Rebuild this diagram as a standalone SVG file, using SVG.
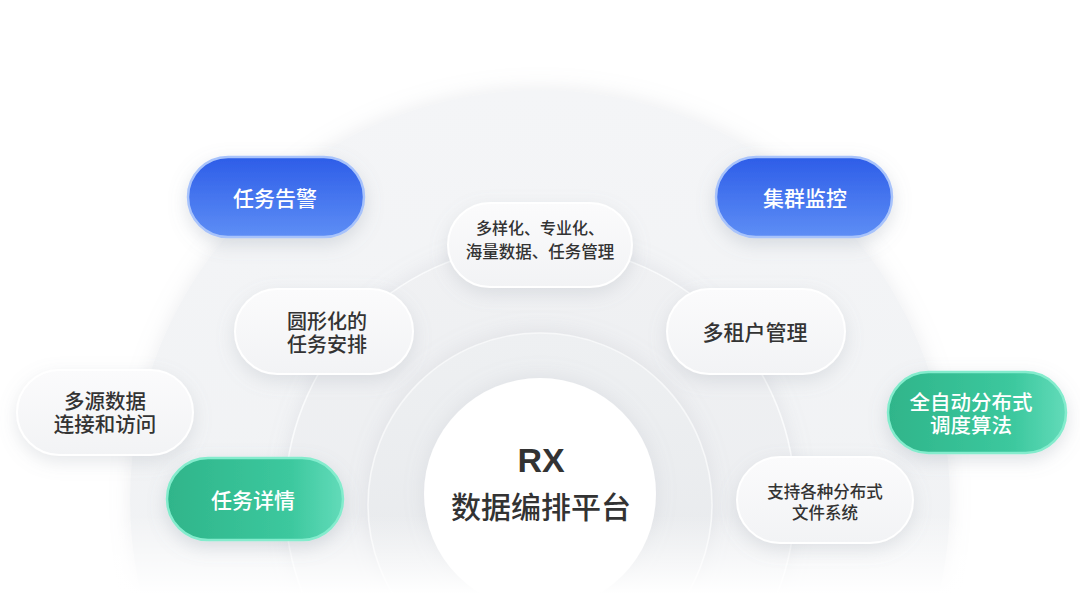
<svg xmlns="http://www.w3.org/2000/svg" width="1080" height="594" viewBox="0 0 1080 594">
<defs>
<linearGradient id="gOuter" x1="0" y1="0" x2="0" y2="1"><stop offset="0" stop-color="#f4f5f7"/><stop offset="1" stop-color="#eef0f2"/></linearGradient>
<linearGradient id="gMid" x1="0" y1="0" x2="0" y2="1"><stop offset="0" stop-color="#f0f1f3"/><stop offset="1" stop-color="#eaecef"/></linearGradient>
<linearGradient id="gRing" x1="0" y1="0" x2="0" y2="1"><stop offset="0" stop-color="#eef0f2"/><stop offset="1" stop-color="#e6e8eb"/></linearGradient>
<linearGradient id="gFade" x1="0" y1="0" x2="0" y2="1"><stop offset="0" stop-color="#ffffff" stop-opacity="0"/><stop offset="1" stop-color="#ffffff" stop-opacity="1"/></linearGradient>
<linearGradient id="gBlue" x1="0" y1="0" x2="0" y2="1"><stop offset="0" stop-color="#2d5de8"/><stop offset="1" stop-color="#5e8ef5"/></linearGradient>
<linearGradient id="gGreen" x1="0" y1="0" x2="1" y2="0"><stop offset="0" stop-color="#2fb58a"/><stop offset="0.7" stop-color="#3cc89e"/><stop offset="1" stop-color="#62dbb9"/></linearGradient>
<linearGradient id="gWhite" x1="0" y1="0" x2="0" y2="1"><stop offset="0" stop-color="#fbfbfc"/><stop offset="1" stop-color="#f2f3f5"/></linearGradient>
<filter id="shSoft" x="-20%" y="-20%" width="140%" height="140%"><feDropShadow dx="0" dy="-2" stdDeviation="10" flood-color="#9aa1ad" flood-opacity="0.18"/></filter>
<filter id="shPill" x="-30%" y="-40%" width="160%" height="190%"><feDropShadow dx="0" dy="6" stdDeviation="9" flood-color="#8c94a3" flood-opacity="0.22"/></filter>
<filter id="shColor" x="-30%" y="-40%" width="160%" height="190%"><feDropShadow dx="0" dy="6" stdDeviation="9" flood-color="#7d8799" flood-opacity="0.25"/></filter>
</defs>
<style>
.t{font-family:"Noto Sans CJK SC","Noto Sans",sans-serif;text-anchor:middle;font-weight:500}
.dark{fill:#333333}
.light{fill:#ffffff}
.pw{fill:url(#gWhite);stroke:#ffffff;stroke-width:2;filter:url(#shPill)}
.pb{fill:url(#gBlue);stroke:#a8c3fb;stroke-width:2.5;filter:url(#shColor)}
.pg{fill:url(#gGreen);stroke:#84eccd;stroke-width:2.5;filter:url(#shColor)}
</style>
<rect width="1080" height="594" fill="#ffffff"/>
<g id="background">
<circle cx="540" cy="500" r="410" fill="url(#gOuter)" filter="url(#shSoft)"/>
<circle cx="540" cy="500" r="255" fill="url(#gMid)" stroke="#fafbfc" stroke-width="1.5" filter="url(#shSoft)"/>
<circle cx="540" cy="505" r="172" fill="url(#gRing)" stroke="#f7f8f9" stroke-width="1.5" filter="url(#shSoft)"/>
<circle cx="540" cy="494" r="116" fill="#ffffff" filter="url(#shSoft)"/>
<rect x="0" y="515" width="1080" height="79" fill="url(#gFade)"/>
</g>
<g id="center">
<text x="541" y="472" font-family="Liberation Sans, Arial, sans-serif" font-weight="bold" font-size="34" fill="#333333" text-anchor="middle">RX</text>
<text class="t dark" x="541" y="518" font-size="30" font-weight="700">数据编排平台</text>
</g>
<g id="connectors"></g>
<g id="node-alert">
<rect class="pb" x="188" y="157" width="176" height="80" rx="40"/>
<text class="t light" x="275" y="205.5" font-size="21">任务告警</text>
</g>
<g id="node-cluster">
<rect class="pb" x="716" y="157" width="176" height="80" rx="40"/>
<text class="t light" x="805" y="205.5" font-size="21">集群监控</text>
</g>
<g id="node-diverse">
<rect class="pw" x="448" y="203" width="184" height="84" rx="42"/>
<text class="t dark" x="540" y="233.5" font-size="16">多样化、专业化、</text>
<text class="t dark" x="540" y="258" font-size="16.5">海量数据、任务管理</text>
</g>
<g id="node-round">
<rect class="pw" x="235" y="289" width="178" height="85" rx="42.5"/>
<text class="t dark" x="327" y="328.5" font-size="20">圆形化的</text>
<text class="t dark" x="327" y="352" font-size="20">任务安排</text>
</g>
<g id="node-tenant">
<rect class="pw" x="667" y="289" width="178" height="85" rx="42.5"/>
<text class="t dark" x="755" y="339.5" font-size="21">多租户管理</text>
</g>
<g id="node-source">
<rect class="pw" x="17" y="370" width="176" height="85" rx="42.5"/>
<text class="t dark" x="105" y="409" font-size="20.5">多源数据</text>
<text class="t dark" x="105" y="432" font-size="20.5">连接和访问</text>
</g>
<g id="node-detail">
<rect class="pg" x="167" y="458" width="176" height="82" rx="41"/>
<text class="t light" x="253" y="507.5" font-size="21">任务详情</text>
</g>
<g id="node-auto">
<rect class="pg" x="888" y="372" width="178" height="81" rx="40.5"/>
<text class="t light" x="971" y="410" font-size="20.5">全自动分布式</text>
<text class="t light" x="971" y="433" font-size="20.5">调度算法</text>
</g>
<g id="node-fs">
<rect class="pw" x="737" y="457" width="176" height="86" rx="43"/>
<text class="t dark" x="825" y="498" font-size="16.5">支持各种分布式</text>
<text class="t dark" x="825" y="518.5" font-size="16.5">文件系统</text>
</g>
</svg>
